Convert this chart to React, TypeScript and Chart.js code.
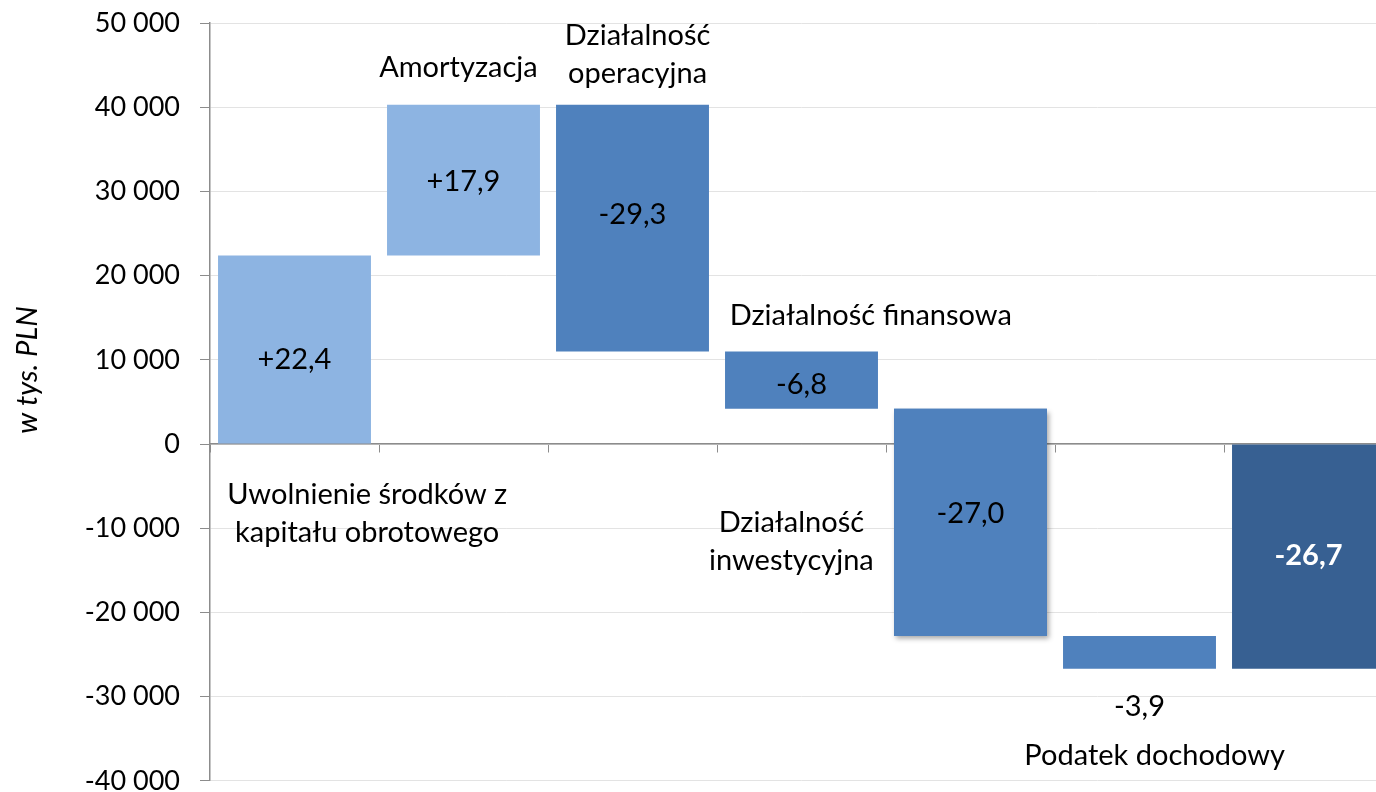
import React, { useEffect, useRef } from "react";
import { Chart, registerables } from "chart.js";

Chart.register(...registerables);

// ---- data ----
const categories = [
  "Uwolnienie środków z kapitału obrotowego",
  "Amortyzacja",
  "Działalność operacyjna",
  "Działalność finansowa",
  "Działalność inwestycyjna",
  "Podatek dochodowy",
  "Razem",
];
const barStarts = [0, 22400, 40300, 11000, 4200, -22800, 0];
const barEnds = [22400, 40300, 11000, 4200, -22800, -26700, -26700];
const valueLabels = ["+22,4", "+17,9", "-29,3", "-6,8", "-27,0", "-3,9", "-26,7"];
const yMin = -40000;
const yMax = 50000;
const yStep = 10000;

// category label text (lines) and anchors (category index, y value)
const catLabelLines = [
  ["Uwolnienie środków z", "kapitału obrotowego"],
  ["Amortyzacja"],
  ["Działalność", "operacyjna"],
  ["Działalność finansowa"],
  ["Działalność", "inwestycyjna"],
  ["Podatek dochodowy"],
  [],
];
const catLabelX = [0.43, 0.97, 2.03, 3.41, 2.94, 5.09, 6];
const catLabelY = [-8250, 44760, 46310, 15200, -11640, -37050, 0];
const valueLabelY = [10090, 31230, 27310, 7120, -8310, -31230, -13300];

const barColors = ["#8DB4E2", "#8DB4E2", "#4F81BD", "#4F81BD", "#4F81BD", "#4F81BD", "#376092"];
const valueLabelColors = ["#000", "#000", "#000", "#000", "#000", "#000", "#fff"];
const valueLabelBold = [false, false, false, false, false, false, true];

const FONT = "Lato, 'Open Sans', sans-serif";

function fmt(v: number): string {
  const neg = v < 0;
  const s = Math.abs(v).toString().replace(/\B(?=(\d{3})+(?!\d))/g, " ");
  return (neg ? "-" : "") + s;
}

const labelsPlugin = {
  id: "waterfallLabels",
  beforeDatasetsDraw(chart: any) {
    const ctx = chart.ctx;
    const meta = chart.getDatasetMeta(0);
    const bar = meta.data[4];
    if (bar) {
      const { x, y, base, width } = bar.getProps(["x", "y", "base", "width"], true);
      ctx.save();
      ctx.shadowColor = "rgba(0,0,0,0.35)";
      ctx.shadowBlur = 5;
      ctx.shadowOffsetX = 2;
      ctx.shadowOffsetY = 3;
      ctx.fillStyle = barColors[4];
      const top = Math.min(y, base);
      ctx.fillRect(x - width / 2, top, width, Math.abs(base - y));
      ctx.restore();
    }
  },
  afterDatasetsDraw(chart: any) {
    const ctx = chart.ctx;
    const xs = chart.scales.x;
    const ys = chart.scales.y;
    const catW = xs.getPixelForValue(1) - xs.getPixelForValue(0);
    ctx.save();
    ctx.textAlign = "center";
    ctx.textBaseline = "middle";
    // category labels
    ctx.font = `29px ${FONT}`;
    ctx.fillStyle = "#000";
    const lh = 38;
    catLabelLines.forEach((lines, i) => {
      if (!lines.length) return;
      const px = xs.getPixelForValue(0) + catLabelX[i] * catW;
      const py = ys.getPixelForValue(catLabelY[i]);
      const startY = py - ((lines.length - 1) * lh) / 2;
      lines.forEach((t, k) => ctx.fillText(t, px, startY + k * lh));
    });
    // value labels
    valueLabels.forEach((t, i) => {
      ctx.font = `${valueLabelBold[i] ? "bold " : ""}29px ${FONT}`;
      ctx.fillStyle = valueLabelColors[i];
      ctx.fillText(t, xs.getPixelForValue(i), ys.getPixelForValue(valueLabelY[i]));
    });
    // y axis title
    ctx.translate(28, 383);
    ctx.rotate(-Math.PI / 2);
    ctx.font = `italic 29px ${FONT}`;
    ctx.fillStyle = "#000";
    ctx.fillText("w tys. PLN", 0, 0);
    ctx.restore();
  },
};

export default function App() {
  const ref = useRef<HTMLCanvasElement | null>(null);
  useEffect(() => {
    if (!ref.current) return;
    const chart = new Chart(ref.current, {
      type: "bar",
      data: {
        labels: categories,
        datasets: [
          {
            data: barStarts.map((s, i) => [s, barEnds[i]]) as any,
            backgroundColor: barColors,
            borderWidth: 0,
            barPercentage: 0.905,
            categoryPercentage: 1,
          },
        ],
      },
      options: {
        animation: false,
        responsive: false,
        maintainAspectRatio: false,
        devicePixelRatio: 1,
        layout: { padding: { top: 10, bottom: 2, left: 0, right: 0 } },
        plugins: { legend: { display: false }, tooltip: { enabled: false } },
        scales: {
          x: {
            type: "category",
            position: { y: 0 } as any,
            offset: true,
            z: 1,
            grid: {
              offset: true,
              drawOnChartArea: false,
              drawTicks: true,
              tickLength: 8,
              color: "#8c8c8c",
            },
            border: { color: "#8c8c8c", width: 1.5 },
            ticks: { display: false },
          },
          y: {
            min: yMin,
            max: yMax,
            ticks: {
              stepSize: yStep,
              padding: 20,
              color: "#000",
              font: { family: FONT, size: 27 },
              callback: (v: any) => fmt(Number(v)),
            },
            grid: { color: "#e3e3e3", tickColor: "#8c8c8c", tickLength: 10 },
            border: { color: "#8c8c8c", width: 1.5 },
            afterFit: (s: any) => {
              s.width = 210;
            },
          },
        },
      },
      plugins: [labelsPlugin],
    });
    return () => chart.destroy();
  }, []);
  return (
    <div
      style={{
        position: "fixed",
        left: 0,
        top: 0,
        width: 1376,
        height: 792,
        overflow: "hidden",
        background: "#fff",
      }}
    >
      <canvas
        ref={ref}
        width={1393}
        height={830}
        style={{ width: 1393, height: 830, display: "block", marginTop: -13 }}
      />
    </div>
  );
}
